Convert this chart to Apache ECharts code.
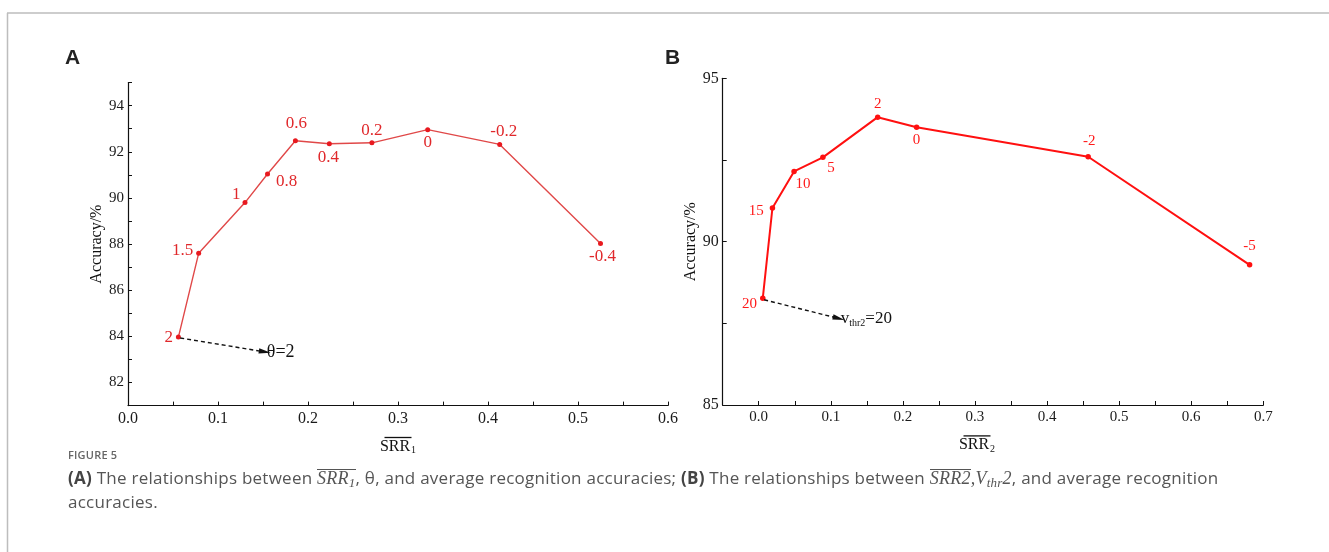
<!DOCTYPE html>
<html><head><meta charset="utf-8">
<script src="https://cdn.jsdelivr.net/npm/echarts@6/dist/echarts.min.js"></script>
<style>
html,body{margin:0;padding:0;background:#fff;}
#chart{position:absolute;left:0;top:0;width:1329px;height:552px;}
#fig{position:absolute;left:68px;top:448px;font-family:"Open Sans",sans-serif;font-size:11px;font-weight:600;color:#666;letter-spacing:0.2px;line-height:14px;}
#cap{position:absolute;left:68px;top:466px;width:1258px;font-family:"Open Sans",sans-serif;color:#555;}
#cap .txt{font-size:17px;line-height:23px;letter-spacing:0.25px;}
#cap b{color:#444;font-weight:700;}
#cap .m{font-family:"Liberation Serif",serif;font-style:italic;font-size:18px;}
#cap .ol{display:inline-block;border-top:1.5px solid #555;line-height:16px;}
#cap sub{font-size:13px;vertical-align:-3px;line-height:0;}
</style></head><body>
<div id="chart"></div>
<div id="fig">FIGURE 5</div>
<div id="cap">
<div class="txt"><b>(A)</b> The relationships between <span class="m"><span class="ol">SRR<sub>1</sub></span></span>, θ, and average recognition accuracies; <b>(B)</b> The relationships between <span class="m"><span class="ol">SRR2</span>,V<sub>thr</sub>2</span>, and average recognition<br>accuracies.</div>
</div>
<script>
// Panel A: SRR1 vs accuracy, labelled by theta
const srrA = [0.056, 0.0785, 0.130, 0.155, 0.186, 0.2237, 0.271, 0.333, 0.413, 0.525];
const accA = [83.97, 87.6, 89.8, 91.04, 92.48, 92.35, 92.39, 92.96, 92.32, 88.03];
const thetaLabels = ['2', '1.5', '1', '0.8', '0.6', '0.4', '0.2', '0', '-0.2', '-0.4'];
// Panel B: SRR2 vs accuracy, labelled by Vthr2
const srrB = [0.0056, 0.019, 0.049, 0.089, 0.165, 0.219, 0.457, 0.681];
const accB = [88.27, 91.03, 92.15, 92.58, 93.81, 93.5, 92.6, 89.29];
const vthrLabels = ['20', '15', '10', '5', '2', '0', '-2', '-5'];
// annotation arrows (start point, end point) in data units
const arrowA = [[0.058, 83.93], [0.152, 83.33]];
const arrowB = [[0.0075, 88.22], [0.111, 87.65]];

// label placement styles (not data)
const labStyleA = [
  {position:'left', distance:3, offset:[0,0]},
  {position:'left', distance:3, offset:[0,-3]},
  {position:'left', distance:2, offset:[0,-8]},
  {position:'right', distance:6, offset:[0,8]},
  {position:'top', distance:6, offset:[1,0]},
  {position:'bottom', distance:3, offset:[-1,0]},
  {position:'top', distance:1, offset:[0,0]},
  {position:'bottom', distance:2, offset:[0,0]},
  {position:'top', distance:2, offset:[4,0]},
  {position:'bottom', distance:2, offset:[2,0]}
];
const labStyleB = [
  {position:'left', distance:3, offset:[0,6]},
  {position:'left', distance:6, offset:[0,3]},
  {position:'bottom', distance:2, offset:[9,0]},
  {position:'bottom', distance:0, offset:[8,0]},
  {position:'top', distance:3, offset:[0,0]},
  {position:'bottom', distance:3, offset:[0,0]},
  {position:'top', distance:5, offset:[1,0]},
  {position:'top', distance:9, offset:[0,0]}
];

const SERIF = '"Liberation Serif","Times New Roman",serif';
const ARROW = 'path://M5,0L10,22L0,22Z';
const chart = echarts.init(document.getElementById('chart'), null, {renderer:'canvas'});

function isMult(v, step){ const r = v/step; return Math.abs(r - Math.round(r)) < 1e-6; }

function xAxisCfg(gi, min, max, sub, fs, shift){
  return {
    type:'value', gridIndex:gi, min:min, max:max, interval:0.05,
    axisLine:{show:true, onZero:false, lineStyle:{color:'#111', width:1.2}},
    axisTick:{show:true, inside:true, length:4, lineStyle:{color:'#111', width:1}},
    splitLine:{show:false},
    axisLabel:{color:'#1a1a1a', fontFamily:SERIF, fontSize:fs, margin:5, interval:0, showMinLabel:true, showMaxLabel:true,
      formatter:v => isMult(v,0.1) ? (Math.abs(v)<1e-9?0:v).toFixed(1) : ''},
    name:'{bar|}\n{n|SRR}{s|' + sub + '}',
    nameLocation:'middle', nameGap:15,
    nameTextStyle:{color:'#111', fontFamily:SERIF, align:'center', verticalAlign:'top', padding:[0, shift, 0, 0],
      rich:{
        bar:{width:27, height:1.3, backgroundColor:'#111'},
        n:{fontFamily:SERIF, fontSize:16, color:'#111', lineHeight:17},
        s:{fontFamily:SERIF, fontSize:10, color:'#111', padding:[8,0,0,1], lineHeight:12}
      }}
  };
}
function yAxisCfg(gi, min, max, step, labStep, fs, gap){
  return {
    type:'value', gridIndex:gi, min:min, max:max, interval:step,
    axisLine:{show:true, onZero:false, lineStyle:{color:'#111', width:1.2}},
    axisTick:{show:true, inside:true, length:4, lineStyle:{color:'#111', width:1}},
    splitLine:{show:false},
    axisLabel:{color:'#1a1a1a', fontFamily:SERIF, fontSize:fs, margin:4, interval:0,
      formatter:v => isMult(v,labStep) ? String(v) : ''},
    name:'Accuracy/%', nameLocation:'middle', nameRotate:90, nameGap:gap,
    nameTextStyle:{color:'#111', fontFamily:SERIF, fontSize:16}
  };
}

function seriesData(xs, ys, labs, styles, color, fs){
  return xs.map((x,i) => ({
    value:[x, ys[i]],
    label:{show:true, formatter:labs[i], position:styles[i].position, distance:styles[i].distance,
      offset:styles[i].offset, color:color, fontFamily:SERIF, fontSize:fs}
  }));
}

function arrowLine(pts, label){
  return {
    silent:true, animation:false, symbol:['none', ARROW], symbolSize:[6,12], symbolKeepAspect:true,
    lineStyle:{color:'#111', type:[4,3], width:1.4},
    itemStyle:{color:'#111'},
    label:label,
    emphasis:{disabled:true},
    data:[[{coord:pts[0]}, {coord:pts[1]}]]
  };
}

const option = {
  animation:false,
  backgroundColor:'#fff',
  grid:[
    {left:128, top:82.6, width:540, height:323},
    {left:722.7, top:78.3, width:540.6, height:326.7}
  ],
  xAxis:[ xAxisCfg(0, 0, 0.6, '1', 16, 0), xAxisCfg(1, -0.05, 0.7, '2', 15, 32) ],
  yAxis:[ yAxisCfg(0, 81, 95, 1, 2, 15, 23), yAxisCfg(1, 85, 95, 2.5, 5, 16, 15) ],
  series:[
    {
      type:'line', xAxisIndex:0, yAxisIndex:0,
      data:seriesData(srrA, accA, thetaLabels, labStyleA, '#e0282b', 17),
      symbol:'circle', symbolSize:5,
      lineStyle:{color:'#e04848', width:1.4}, itemStyle:{color:'#e8191f'},
      emphasis:{disabled:true},
      markLine:arrowLine(arrowA, {show:true, position:'end', distance:2, formatter:'θ=2', color:'#111', fontFamily:SERIF, fontSize:18})
    },
    {
      type:'line', xAxisIndex:1, yAxisIndex:1,
      data:seriesData(srrB, accB, vthrLabels, labStyleB, '#ff1a1a', 15),
      symbol:'circle', symbolSize:5.5,
      lineStyle:{color:'#ff1010', width:2}, itemStyle:{color:'#ff1010'},
      emphasis:{disabled:true},
      markLine:arrowLine(arrowB, {show:true, position:'end', distance:2,
          formatter:'{v|v}{s|thr2}{v|=20}',
          rich:{
            v:{fontFamily:SERIF, fontSize:17, color:'#111'},
            s:{fontFamily:SERIF, fontSize:10, color:'#111', padding:[9,0,0,0]}
          }})
    }
  ],
  graphic:[
    {type:'line', silent:true, shape:{x1:7, y1:13, x2:1329, y2:13}, style:{stroke:'#bdbdbd', lineWidth:1.5}},
    {type:'line', silent:true, shape:{x1:7.5, y1:13, x2:7.5, y2:552}, style:{stroke:'#bdbdbd', lineWidth:1.5}},
    {type:'text', left:65, top:48, style:{text:'A', font:'bold 21px "Liberation Sans", Arial, sans-serif', fill:'#222'}},
    {type:'text', left:665, top:48, style:{text:'B', font:'bold 21px "Liberation Sans", Arial, sans-serif', fill:'#222'}}
  ]
};
chart.setOption(option);
</script>
</body></html>
